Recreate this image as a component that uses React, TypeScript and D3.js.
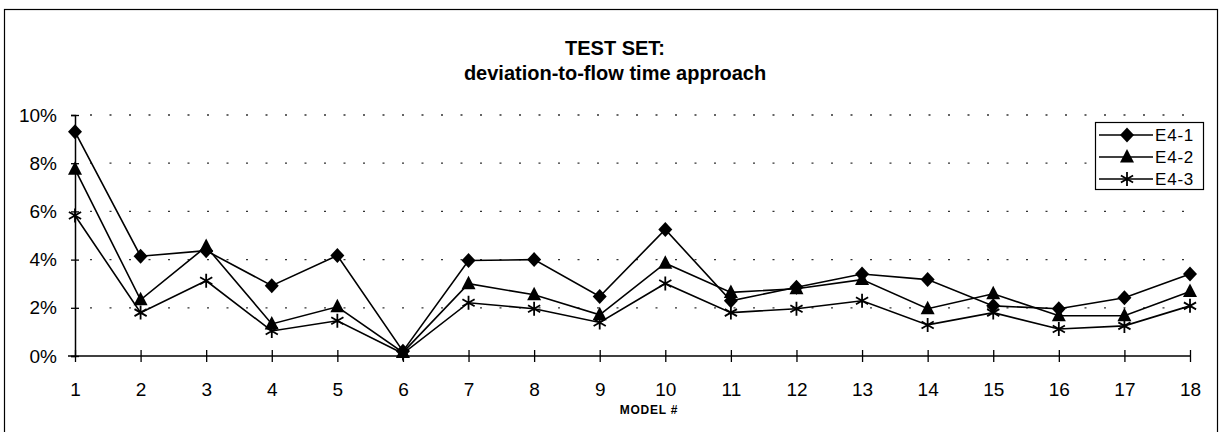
import React, { useEffect, useRef } from 'react';
import * as d3 from 'd3';

const models = d3.range(1, 19);
const yTicks = [0, 2, 4, 6, 8, 10];
const e41 = [9.3, 4.14, 4.37, 2.92, 4.17, 0.2, 3.96, 4.0, 2.47, 5.25, 2.29, 2.85, 3.4, 3.17, 2.08, 1.96, 2.42, 3.4];
const e42 = [7.75, 2.33, 4.54, 1.33, 2.04, 0.15, 3.0, 2.54, 1.71, 3.85, 2.64, 2.79, 3.17, 1.96, 2.58, 1.67, 1.67, 2.68];
const e43 = [5.83, 1.8, 3.12, 1.04, 1.46, 0.1, 2.21, 1.96, 1.39, 3.01, 1.8, 1.96, 2.29, 1.29, 1.8, 1.12, 1.25, 2.08];
const seriesNames = ['E4-1', 'E4-2', 'E4-3'];
const seriesValues = [e41, e42, e43];
const markerTypes = ['diamond', 'triangle', 'asterisk'];

const W = 1221;
const H = 432;
const FONT = '"Liberation Sans", Arial, sans-serif';

function drawMarker(g, type, x, y) {
  if (type === 'diamond') {
    g.append('path')
      .attr('d', `M${x},${y - 7.5}L${x + 7},${y}L${x},${y + 7.5}L${x - 7},${y}Z`)
      .attr('fill', '#000');
  } else if (type === 'triangle') {
    g.append('path')
      .attr('d', `M${x},${y - 8}L${x + 7},${y + 5.5}L${x - 7},${y + 5.5}Z`)
      .attr('fill', '#000');
  } else {
    const r = 7;
    g.append('path')
      .attr('d', `M${x},${y - r}L${x},${y + r}M${x - r * 0.87},${y - r * 0.5}L${x + r * 0.87},${y + r * 0.5}M${x - r * 0.87},${y + r * 0.5}L${x + r * 0.87},${y - r * 0.5}`)
      .attr('stroke', '#000')
      .attr('stroke-width', 1.8)
      .attr('fill', 'none');
  }
}

export default function App() {
  const ref = useRef(null);

  useEffect(() => {
    const svg = d3.select(ref.current);
    svg.selectAll('*').remove();

    const x = d3.scalePoint().domain(models.map(String)).range([75, 1190]);
    const y = d3.scaleLinear().domain([0, 10]).range([356, 115]);

    // frame
    svg.append('rect')
      .attr('x', 4.5).attr('y', 9.5)
      .attr('width', 1213).attr('height', 440)
      .attr('fill', '#fff').attr('stroke', '#000').attr('stroke-width', 1.2);

    // title
    const title = svg.append('text')
      .attr('text-anchor', 'middle')
      .attr('font-family', FONT)
      .attr('font-weight', 'bold')
      .attr('font-size', 20);
    title.append('tspan').attr('x', 615).attr('y', 55).text('TEST SET:');
    title.append('tspan').attr('x', 615).attr('y', 80).text('deviation-to-flow time approach');

    // gridlines
    svg.append('g')
      .selectAll('line')
      .data(yTicks.filter(d => d > 0))
      .join('line')
      .attr('x1', 90).attr('x2', 1190)
      .attr('y1', d => y(d)).attr('y2', d => y(d))
      .attr('stroke', '#333')
      .attr('stroke-width', 1.3)
      .attr('stroke-dasharray', '2,17.5');

    // y axis
    const yAxis = svg.append('g').attr('transform', 'translate(75,0)')
      .call(d3.axisLeft(y).tickValues(yTicks).tickFormat(d => `${d}%`).tickSize(4).tickPadding(14));
    yAxis.select('.domain').attr('stroke', '#000').attr('stroke-width', 1.5);
    yAxis.selectAll('.tick line').attr('x2', 4).attr('x1', -4).attr('stroke', '#000').attr('stroke-width', 1.3);
    yAxis.selectAll('text').attr('font-family', FONT).attr('font-size', 19).attr('fill', '#000');

    // x axis
    const xAxis = svg.append('g').attr('transform', `translate(0,${y(0)})`)
      .call(d3.axisBottom(x).tickSize(6).tickPadding(21));
    xAxis.select('.domain').attr('d', `M68,0H${1190}`).attr('stroke', '#000').attr('stroke-width', 1.5);
    xAxis.selectAll('.tick line').attr('y1', -6).attr('y2', 6).attr('stroke', '#000').attr('stroke-width', 1.3);
    xAxis.selectAll('text').attr('font-family', FONT).attr('font-size', 19).attr('fill', '#000');

    svg.append('text')
      .attr('x', 649).attr('y', 414)
      .attr('text-anchor', 'middle')
      .attr('font-family', FONT)
      .attr('font-weight', 'bold')
      .attr('font-size', 12)
      .attr('letter-spacing', 0.8)
      .text('MODEL #');

    // series
    const line = d3.line().x((d, i) => x(String(models[i]))).y(d => y(d));
    seriesValues.forEach((vals, si) => {
      const g = svg.append('g');
      g.append('path')
        .attr('d', line(vals))
        .attr('fill', 'none')
        .attr('stroke', '#000')
        .attr('stroke-width', 1.6);
      vals.forEach((v, i) => drawMarker(g, markerTypes[si], x(String(models[i])), y(v)));
    });

    // legend
    const lg = svg.append('g');
    lg.append('rect')
      .attr('x', 1095.5).attr('y', 122.5)
      .attr('width', 108).attr('height', 67)
      .attr('fill', '#fff').attr('stroke', '#000').attr('stroke-width', 1.2);
    seriesNames.forEach((name, i) => {
      const ly = 135 + i * 22;
      lg.append('line')
        .attr('x1', 1099).attr('x2', 1153)
        .attr('y1', ly).attr('y2', ly)
        .attr('stroke', '#000').attr('stroke-width', 1.6);
      drawMarker(lg, markerTypes[i], 1127, ly);
      lg.append('text')
        .attr('x', 1155).attr('y', ly + 6)
        .attr('font-family', FONT)
        .attr('font-size', 17)
        .attr('letter-spacing', 0.8)
        .text(name);
    });
  }, []);

  return <svg ref={ref} width={W} height={H} style={{ position: 'absolute', left: 0, top: 0 }} />;
}
